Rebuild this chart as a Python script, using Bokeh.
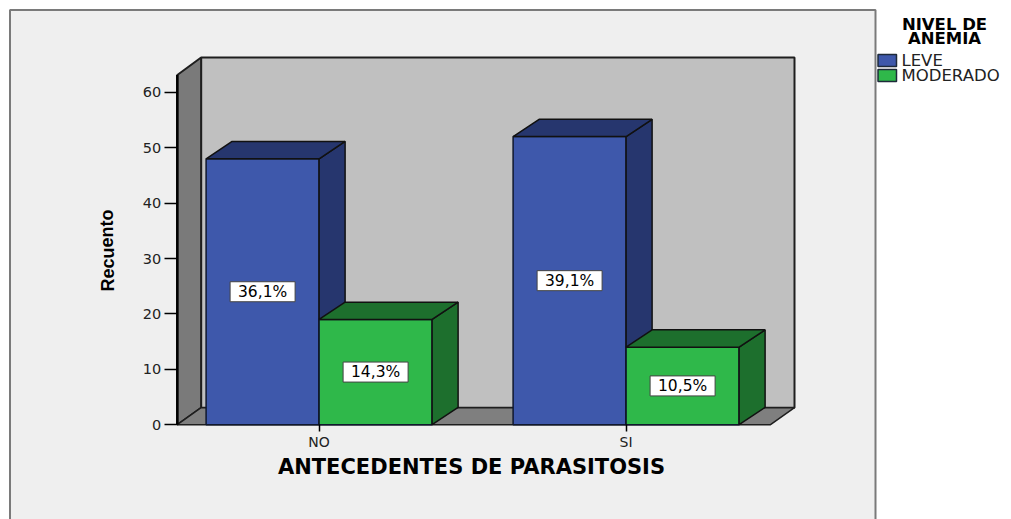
from bokeh.plotting import figure
from bokeh.models import FixedTicker
from bokeh.core.properties import value
from bokeh.embed import file_html
from bokeh.resources import INLINE

categories = ["NO", "SI"]
leve = [48, 52]
moderado = [19, 14]
leve_pct = ["36,1%", "39,1%"]
moderado_pct = ["14,3%", "10,5%"]
y_ticks = [0, 10, 20, 30, 40, 50, 60]
x_title = "ANTECEDENTES DE PARASITOSIS"
y_title = "Recuento"
legend_title = ["NIVEL DE", "ANEMIA"]
series_names = ["LEVE", "MODERADO"]
BLUE, BLUE_DARK = "#3E58AB", "#26366E"
GREEN, GREEN_DARK = "#2FB84A", "#1D6F2D"

W, H = 1011, 519
X0_PAGE, UX = 318.6, 307.0      # px of category 0, px per category
Y0_PAGE, UY = 424.2, 5.54       # px of value 0, px per unit
def px(v): return (v - X0_PAGE) / UX
def py(v): return (Y0_PAGE - v) / UY

BAR = 113 / UX
DX, DY = 26 / UX, 17.3 / UY

p = figure(width=W, height=H, output_backend="svg", toolbar_location=None,
           x_range=(px(0), px(W)), y_range=(py(H), py(0)),
           min_border=0, outline_line_color=None, background_fill_color="white",
           border_fill_color="white")
p.grid.visible = False

# chart panel
p.quad(left=[px(9.5)], right=[px(875)], top=[py(9.5)], bottom=[py(530)],
       fill_color="#EFEFEF", line_color="#7A7A7A", line_width=2)

# 3D box walls
WL, WR, WT = px(200.6), px(794), py(57)
FL, FR, FT = px(176.8), px(770), py(74.5)
FB = 0.0
BB = py(407.2)
wall = "#1E1E1E"
p.quad(left=[WL], right=[WR], top=[WT], bottom=[BB], fill_color="#C0C0C0",
       line_color=wall, line_width=2)
p.patch([FL, WL, WL, FL], [FT, WT, BB, FB], fill_color="#7A7A7A", line_color=wall, line_width=2)
p.patch([FL, WL, WR, FR], [FB, BB, BB, FB], fill_color="#7F7F7F", line_color=wall, line_width=1.5)
p.line([FL, FL], [FB, FT], line_color="black", line_width=2.5)

def draw(vals, offset, front, dark):
    lefts = [i + offset for i in range(len(vals))]
    rights = [l + BAR for l in lefts]
    p.quad(left=lefts, right=rights, top=vals, bottom=[0] * len(vals),
           fill_color=front, line_color="#10182E", line_width=1.5)
    p.patches([[x, x + DX, x + DX, x] for x in rights],
              [[0, DY, v + DY, v] for v in vals],
              fill_color=dark, line_color="#111111", line_width=1.5)
    p.patches([[l, l + DX, t + DX, t] for l, t in zip(lefts, rights)],
              [[v, v + DY, v + DY, v] for v in vals],
              fill_color=dark, line_color="#111111", line_width=1.5)
    return [(l + t) / 2 for l, t in zip(lefts, rights)]

c1 = draw(leve, -BAR, BLUE, BLUE_DARK)
c2 = draw(moderado, 0, GREEN, GREEN_DARK)

# value labels
for xs, vals, labels in ((c1, leve, leve_pct), (c2, moderado, moderado_pct)):
    ys = [v / 2 for v in vals]
    p.rect(xs, ys, width=65, height=20, width_units="screen", height_units="screen",
           fill_color="white", line_color="#444444", line_width=1)
    p.text(xs, ys, text=labels, text_font=value("DejaVu Sans"), text_font_size="15.5px",
           text_align="center", text_baseline="middle", text_color="black")

# axes
p.yaxis.fixed_location = FL
p.yaxis.ticker = FixedTicker(ticks=y_ticks)
p.yaxis.bounds = (0, 60)
p.yaxis.axis_line_color = None
p.yaxis.major_tick_in = 0
p.yaxis.major_tick_out = 13
p.yaxis.major_tick_line_color = "black"
p.yaxis.major_tick_line_width = 1.5
p.yaxis.minor_tick_line_color = None
p.yaxis.major_label_standoff = 3
p.yaxis.major_label_text_font = "DejaVu Sans"
p.yaxis.major_label_text_font_size = "14.5px"
p.yaxis.major_label_text_color = "#222222"

p.xaxis.fixed_location = 0
p.xaxis.ticker = FixedTicker(ticks=[0, 1])
p.xaxis.major_label_overrides = {i: c for i, c in enumerate(categories)}
p.xaxis.axis_line_color = None
p.xaxis.major_tick_in = 0
p.xaxis.major_tick_out = 7
p.xaxis.major_tick_line_color = "black"
p.xaxis.major_tick_line_width = 1.5
p.xaxis.minor_tick_line_color = None
p.xaxis.major_label_standoff = 2
p.xaxis.major_label_text_font = "DejaVu Sans"
p.xaxis.major_label_text_font_size = "14px"
p.xaxis.major_label_text_color = "#222222"

# axis titles
p.text([px(471)], [py(466)], text=[x_title], text_font=value("DejaVu Sans"),
       text_font_style="bold", text_font_size="21px", text_align="center",
       text_baseline="middle", text_color="black")
p.text([px(107)], [py(250)], text=[y_title], text_font=value("Liberation Sans"),
       text_font_style="bold", text_font_size="18px", text_align="center",
       text_baseline="middle", text_color="black", angle=1.5708)

# legend
p.text([px(944), px(944)], [py(23.5), py(37.5)], text=legend_title, text_font=value("DejaVu Sans"),
       text_font_style="bold", text_font_size="16.5px", text_align="center",
       text_baseline="middle", text_color="black")
row_y = [60, 75]
for name, color, y in zip(series_names, (BLUE, GREEN), row_y):
    p.quad(left=[px(877.5)], right=[px(896)], top=[py(y - 6)], bottom=[py(y + 6)],
           fill_color=color, line_color="#1E2A3A", line_width=1.5)
    p.text([px(901)], [py(y)], text=[name], text_font=value("DejaVu Sans"),
           text_font_size="16.5px", text_align="left", text_baseline="middle",
           text_color="#222222")

open("out.html", "w").write(file_html(p, INLINE))
